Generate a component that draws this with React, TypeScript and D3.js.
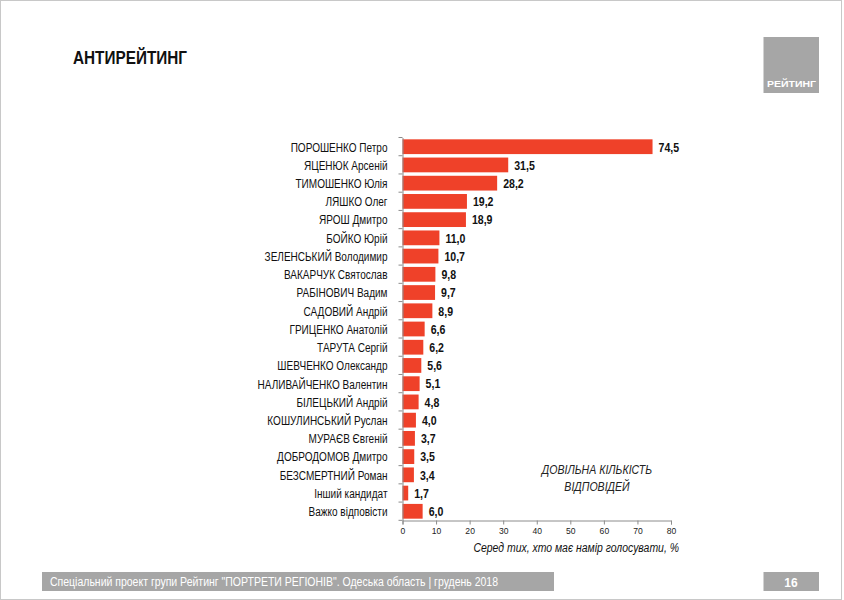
import { useEffect, useRef } from 'react';
import * as d3 from 'd3';

const candidates = [
  'ПОРОШЕНКО Петро',
  'ЯЦЕНЮК Арсеній',
  'ТИМОШЕНКО Юлія',
  'ЛЯШКО Олег',
  'ЯРОШ Дмитро',
  'БОЙКО Юрій',
  'ЗЕЛЕНСЬКИЙ Володимир',
  'ВАКАРЧУК Святослав',
  'РАБІНОВИЧ Вадим',
  'САДОВИЙ Андрій',
  'ГРИЦЕНКО Анатолій',
  'ТАРУТА Сергій',
  'ШЕВЧЕНКО Олександр',
  'НАЛИВАЙЧЕНКО Валентин',
  'БІЛЕЦЬКИЙ Андрій',
  'КОШУЛИНСЬКИЙ Руслан',
  'МУРАЄВ Євгеній',
  'ДОБРОДОМОВ Дмитро',
  'БЕЗСМЕРТНИЙ Роман',
  'Інший кандидат',
  'Важко відповісти',
];

const antiRating = [
  74.5, 31.5, 28.2, 19.2, 18.9, 11.0, 10.7, 9.8, 9.7, 8.9, 6.6, 6.2, 5.6, 5.1, 4.8, 4.0, 3.7, 3.5, 3.4, 1.7, 6.0,
];

const xTicks = [0, 10, 20, 30, 40, 50, 60, 70, 80];

const W = 844;
const H = 600;
const SANS = '"Liberation Sans", Arial, sans-serif';

// the slide uses a narrow face; squeeze Liberation Sans horizontally
function squeeze(sel: d3.Selection<any, any, any, any>, factor: number) {
  sel.each(function () {
    const el = this as SVGTextContentElement;
    const len = el.getComputedTextLength();
    el.setAttribute('textLength', String(len * factor));
    el.setAttribute('lengthAdjust', 'spacingAndGlyphs');
  });
}

function fitWidth(sel: d3.Selection<any, any, any, any>, width: number) {
  sel.attr('textLength', width).attr('lengthAdjust', 'spacingAndGlyphs');
}

export default function App() {
  const ref = useRef<SVGSVGElement>(null);

  useEffect(() => {
    if (!ref.current) return;
    const svg = d3.select(ref.current);
    svg.selectAll('*').remove();

    // page frame
    svg.append('rect')
      .attr('x', 0.5).attr('y', 0.5)
      .attr('width', W - 3).attr('height', H - 1)
      .attr('fill', '#fff').attr('stroke', '#c8c8c8');

    // title
    svg.append('text')
      .attr('x', 73).attr('y', 64)
      .attr('font-family', SANS).attr('font-weight', 'bold')
      .attr('font-size', 18.5).attr('fill', '#111')
      .text('АНТИРЕЙТИНГ')
      .call(fitWidth, 114);

    // logo box
    svg.append('rect')
      .attr('x', 763.5).attr('y', 37).attr('width', 55.5).attr('height', 56)
      .attr('fill', '#a6a6a6');
    svg.append('text')
      .attr('x', 767).attr('y', 87)
      .attr('font-family', SANS).attr('font-weight', 'bold')
      .attr('font-size', 9.5).attr('fill', '#fff')
      .text('РЕЙТИНГ')
      .call(fitWidth, 49);

    const x = d3.scaleLinear().domain([0, 80]).range([402.5, 671]);
    const y = d3.scaleBand<string>().domain(candidates).range([137.5, 520.5]).paddingInner(0.19).paddingOuter(0.1);

    const g = svg.append('g');

    // bars
    g.selectAll('rect.bar')
      .data(candidates)
      .enter()
      .append('rect')
      .attr('class', 'bar')
      .attr('x', x(0))
      .attr('y', (d) => y(d)!)
      .attr('width', (_, i) => x(antiRating[i]) - x(0))
      .attr('height', y.bandwidth())
      .attr('fill', '#ef4129');

    // value labels
    g.selectAll('text.val')
      .data(candidates)
      .enter()
      .append('text')
      .attr('class', 'val')
      .attr('x', (_, i) => x(antiRating[i]) + 6)
      .attr('y', (d) => y(d)! + y.bandwidth() / 2)
      .attr('dy', '0.4em')
      .attr('font-family', SANS).attr('font-weight', 'bold')
      .attr('font-size', 12).attr('fill', '#111')
      .text((_, i) => antiRating[i].toFixed(1).replace('.', ','))
      .call(squeeze, 0.88);

    // category axis
    const yAxis = d3.axisLeft(y).tickSize(0).tickPadding(15);
    const ya = svg.append('g').attr('transform', `translate(${x(0)},0)`).call(yAxis);
    ya.select('.domain').attr('stroke', '#8c8c8c');
    ya.selectAll('text')
      .attr('font-family', SANS).attr('font-size', 12).attr('fill', '#111')
      .attr('dy', '0.4em')
      .call(squeeze, 0.835);
    // small ticks at band boundaries
    const step = y.step();
    const bounds = d3.range(candidates.length + 1).map((i) => 137.5 + i * step);
    svg.append('g').selectAll('line')
      .data(bounds)
      .enter()
      .append('line')
      .attr('x1', x(0) - 4).attr('x2', x(0))
      .attr('y1', (d) => d).attr('y2', (d) => d)
      .attr('stroke', '#8c8c8c');

    // value axis
    const xAxis = d3.axisBottom(x).tickValues(xTicks).tickSize(4).tickPadding(3);
    const xa = svg.append('g').attr('transform', 'translate(0,520.5)').call(xAxis);
    xa.select('.domain').attr('stroke', '#8c8c8c');
    xa.selectAll('line').attr('stroke', '#8c8c8c');
    xa.selectAll('text')
      .attr('font-family', SANS).attr('font-size', 9.5).attr('fill', '#222')
      .call(squeeze, 0.9);

    svg.append('text')
      .attr('x', 679).attr('y', 552)
      .attr('text-anchor', 'end')
      .attr('font-family', SANS).attr('font-style', 'italic')
      .attr('font-size', 12).attr('fill', '#111')
      .text('Серед тих, хто має намір голосувати, %')
      .call(squeeze, 0.87);

    // note
    const note = svg.append('text')
      .attr('font-family', SANS).attr('font-style', 'italic')
      .attr('font-size', 12).attr('fill', '#222')
      .attr('text-anchor', 'middle');
    note.append('tspan').attr('x', 597).attr('y', 474).text('ДОВІЛЬНА КІЛЬКІСТЬ');
    note.append('tspan').attr('x', 597).attr('y', 491).text('ВІДПОВІДЕЙ');
    note.selectAll('tspan').call(squeeze, 0.88);

    // footer
    svg.append('rect')
      .attr('x', 42).attr('y', 572).attr('width', 512).attr('height', 19)
      .attr('fill', '#a6a6a6');
    svg.append('text')
      .attr('x', 50).attr('y', 586)
      .attr('font-family', SANS).attr('font-size', 12).attr('fill', '#fff')
      .text('Спеціальний проект групи Рейтинг "ПОРТРЕТИ РЕГІОНІВ". Одеська область | грудень 2018')
      .call(fitWidth, 448);
    svg.append('rect')
      .attr('x', 763.5).attr('y', 572).attr('width', 55.5).attr('height', 19)
      .attr('fill', '#a6a6a6');
    svg.append('text')
      .attr('x', 791).attr('y', 586.5)
      .attr('text-anchor', 'middle')
      .attr('font-family', SANS).attr('font-weight', 'bold')
      .attr('font-size', 12).attr('fill', '#fff')
      .text('16');
  }, []);

  return (
    <div style={{ width: W, height: H }}>
      <svg ref={ref} width={W} height={H} style={{ position: 'absolute', left: 0, top: 0 }} />
    </div>
  );
}
